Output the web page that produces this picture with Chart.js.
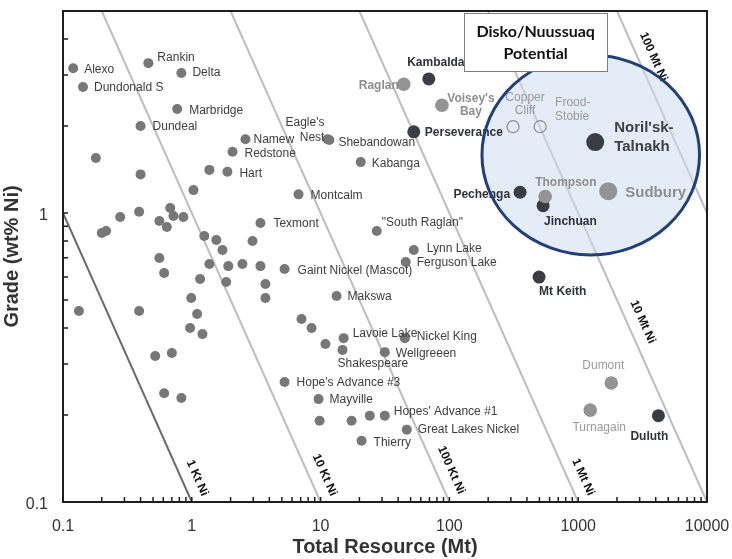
<!DOCTYPE html>
<html>
<head>
<meta charset="utf-8">
<script src="https://cdn.jsdelivr.net/npm/chart.js@4.4.1/dist/chart.umd.min.js"></script>
<style>
  html, body { margin: 0; padding: 0; background: #fff; }
  canvas { display: block; }
</style>
</head>
<body>
<canvas id="myChart" width="732" height="559"></canvas>
<script>
// axis labels
const xTickLabels = [0.1, 1, 10, 100, 1000, 10000];
const yTickLabels = [0.1, 1];

// smaller deposits (grey dots), "" = unlabelled
const depositNames = [
  "Alexo", "Rankin", "Delta", "Dundonald S", "Marbridge", "Dundeal", "Namew", "Redstone", "Hart",
  "Eagle's Nest", "Shebandowan", "Kabanga", "Montcalm", "Texmont", "\"South Raglan\"", "Lynn Lake",
  "Ferguson Lake", "Gaint Nickel (Mascot)", "Makswa", "Lavoie Lake", "Nickel King", "Wellgreeen",
  "Shakespeare", "Hope's Advance #3", "Mayville", "Hopes' Advance #1", "Great Lakes Nickel", "Thierry",
  "", "", "", "", "", "", "", "", "", "", "", "", "", "", "", "", "", "", "", "", "", "", "", "", "",
  "", "", "", "", "", "", "", "", "", "", "", "", "", "", "", "", "", "", "", ""
];
const depositTonnage = [
  0.12, 0.46, 0.83, 0.143, 0.77, 0.40, 2.61, 2.07, 1.89,
  11.3, 11.7, 20.5, 6.74, 3.41, 27.3, 52.9,
  45.8, 5.25, 13.3, 15.1, 45.1, 31.5,
  14.8, 5.25, 9.64, 31.5, 46.7, 20.8,
  0.18, 0.40, 1.37, 1.03, 0.68, 0.39, 0.278, 0.72, 0.86, 0.56, 0.64, 0.216, 0.20, 1.25, 1.55, 2.96, 1.73,
  0.56, 1.37, 1.92, 2.47, 3.41, 0.61, 1.16, 1.85, 3.73, 3.73, 0.99, 0.133, 0.39, 1.10, 0.97, 1.21, 0.52,
  0.70, 0.61, 0.83, 7.11, 8.51, 10.9, 9.82, 17.4, 24.1
];
const depositGrade = [
  3.17, 3.30, 3.05, 2.73, 2.29, 2.00, 1.80, 1.63, 1.39,
  1.80, 1.79, 1.50, 1.16, 0.924, 0.866, 0.745,
  0.677, 0.640, 0.516, 0.369, 0.369, 0.330,
  0.336, 0.260, 0.227, 0.199, 0.178, 0.163,
  1.55, 1.36, 1.41, 1.20, 1.04, 1.01, 0.969, 0.976, 0.969, 0.938, 0.895, 0.866, 0.853, 0.833, 0.807, 0.800, 0.745,
  0.699, 0.666, 0.655, 0.666, 0.655, 0.620, 0.591, 0.577, 0.568, 0.508, 0.508, 0.458, 0.458, 0.447, 0.400, 0.381, 0.320,
  0.328, 0.238, 0.229, 0.430, 0.400, 0.352, 0.191, 0.191, 0.199
];

// world class deposits, dark dots
const darkNames = ["Kambalda", "Perseverance", "Pechenga", "Jinchuan", "Noril'sk-Talnakh", "Mt Keith", "Duluth"];
const darkTonnage = [69.2, 52.9, 354, 534, 1355, 497, 4195];
const darkGrade = [2.91, 1.91, 1.18, 1.06, 1.76, 0.60, 0.199];

// world class deposits, light dots
const lightNames = ["Raglan", "Voisey's Bay", "Thompson", "Sudbury", "Dumont", "Turnagain"];
const lightTonnage = [44.2, 87.5, 554, 1711, 1807, 1240];
const lightGrade = [2.79, 2.36, 1.14, 1.19, 0.258, 0.208];

// open circles
const openNames = ["Copper Cliff", "Frood-Stobie"];
const openTonnage = [312, 506];
const openGrade = [1.99, 1.99];

// contained nickel lines (endpoints, Mt vs wt%)
const contourNames = ["1 Kt Ni", "10 Kt Ni", "100 Kt Ni", "1 Mt Ni", "10 Mt Ni", "100 Mt Ni"];
const contourStartTonnage = [0.1, 0.2, 2, 20, 200, 2000];
const contourStartGrade = [1, 5, 5, 5, 5, 5];
const contourEndTonnage = [1, 10, 100, 1000, 10000, 10000];
const contourEndGrade = [0.1, 0.1, 0.1, 0.1, 0.1, 1];

const FONT = '"Liberation Sans", Arial, sans-serif';

// label placement: [dx, dy, align, style, lines, lineGap]
const labelPlacement = {
  "Alexo": [11, 1, "left", "n"],
  "Rankin": [9, -5, "left", "n"],
  "Delta": [11, 0, "left", "n"],
  "Dundonald S": [11, 1, "left", "n"],
  "Marbridge": [12, 2, "left", "n"],
  "Dundeal": [12, 1, "left", "n"],
  "Namew": [8, 0, "left", "n"],
  "Redstone": [12, 2, "left", "n"],
  "Hart": [12, 2, "left", "n"],
  "Eagle's Nest": [-3, -17, "right", "n", ["Eagle's", "Nest"], 15],
  "Shebandowan": [9, 3, "left", "n"],
  "Kabanga": [11, 2, "left", "n"],
  "Montcalm": [12, 1, "left", "n"],
  "Texmont": [13, 1, "left", "n"],
  "\"South Raglan\"": [5, -8, "left", "n"],
  "Lynn Lake": [13, -1, "left", "n"],
  "Ferguson Lake": [11, 1, "left", "n"],
  "Gaint Nickel (Mascot)": [13, 2, "left", "n"],
  "Makswa": [11, 1, "left", "n"],
  "Lavoie Lake": [9, -4, "left", "n"],
  "Nickel King": [12, -1, "left", "n"],
  "Wellgreeen": [11, 2, "left", "n"],
  "Shakespeare": [-5, 14, "left", "n"],
  "Hope's Advance #3": [12, 1, "left", "n"],
  "Mayville": [11, 1, "left", "n"],
  "Hopes' Advance #1": [9, -4, "left", "n"],
  "Great Lakes Nickel": [11, 0, "left", "n"],
  "Thierry": [12, 2, "left", "n"],
  "Kambalda": [7, -16, "center", "b"],
  "Perseverance": [11, 1, "left", "b"],
  "Pechenga": [-10, 2, "right", "b"],
  "Jinchuan": [1, 16, "left", "b"],
  "Noril'sk-Talnakh": [19, -14, "left", "B", ["Noril'sk-", "Talnakh"], 19],
  "Mt Keith": [0, 15, "left", "b"],
  "Duluth": [-9, 21, "center", "b"],
  "Raglan": [-5, 1, "right", "g"],
  "Voisey's Bay": [29, -7, "center", "g", ["Voisey's", "Bay"], 13],
  "Thompson": [-10, -14, "left", "g"],
  "Sudbury": [17, 2, "left", "G"],
  "Dumont": [-8, -17, "center", "l"],
  "Turnagain": [9, 18, "center", "l"],
  "Copper Cliff": [12, -29, "center", "l", ["Copper", "Cliff"], 13],
  "Frood-Stobie": [15, -24, "left", "l", ["Frood-", "Stobie"], 14]
};

const labelStyles = {
  n: { font: "12px " + FONT, color: "#3d3d3d" },
  b: { font: "bold 12px " + FONT, color: "#2f3237" },
  g: { font: "bold 12px " + FONT, color: "#8e8e8e" },
  l: { font: "12px " + FONT, color: "#9a9a9a" },
  B: { font: "bold 15px " + FONT, color: "#3b3f46" },
  G: { font: "bold 15px " + FONT, color: "#8e8e8e" }
};

const toPoints = (xs, ys) => xs.map((x, i) => ({ x: x, y: ys[i] }));

const darkRadius = darkNames.map((n) => (n === "Noril'sk-Talnakh" ? 9 : 6.5));
const lightRadius = lightNames.map((n) => (n === "Sudbury" ? 9 : 6.8));

const pointSets = [
  { label: "open", names: openNames, data: toPoints(openTonnage, openGrade), pointRadius: 6,
    backgroundColor: "rgba(255,255,255,0)", borderColor: "#8d8d8d", borderWidth: 1.3, order: 0 },
  { label: "light", names: lightNames, data: toPoints(lightTonnage, lightGrade), pointRadius: lightRadius,
    backgroundColor: "#939393", borderWidth: 0, order: 1 },
  { label: "dark", names: darkNames, data: toPoints(darkTonnage, darkGrade), pointRadius: darkRadius,
    backgroundColor: "#3a3e44", borderWidth: 0, order: 2 },
  { label: "deposits", names: depositNames, data: toPoints(depositTonnage, depositGrade), pointRadius: 5,
    backgroundColor: "#777777", borderWidth: 0, order: 3 }
];

const lineSets = contourNames.map((name, i) => ({
  type: "line",
  label: name,
  contour: true,
  data: [
    { x: contourStartTonnage[i], y: contourStartGrade[i] },
    { x: contourEndTonnage[i], y: contourEndGrade[i] }
  ],
  borderColor: i === 0 ? "#6b6b6b" : "#bdbdbd",
  borderWidth: 2,
  pointRadius: 0,
  fill: false,
  order: 10
}));

// grade at which each line's label sits
const contourLabelGrade = [0.121, 0.124, 0.129, 0.122, 0.42, 3.47];

const ellipseBox = { xMin: 179, xMax: 8750, yMin: 0.716, yMax: 3.52 };
const textBox = { xMin: 130, xMax: 1682, yMin: 3.10, yMax: 4.92 };

let fillDone = false;

const overlayPlugin = {
  id: "overlay",
  beforeDatasetsDraw() {
    fillDone = false;
  },
  beforeDatasetDraw(chart, args) {
    if (fillDone || args.meta._dataset.contour) return;
    fillDone = true;
    const { ctx, scales: { x, y } } = chart;
    const l = x.getPixelForValue(ellipseBox.xMin), r = x.getPixelForValue(ellipseBox.xMax);
    const t = y.getPixelForValue(ellipseBox.yMax), b = y.getPixelForValue(ellipseBox.yMin);
    ctx.save();
    ctx.beginPath();
    ctx.ellipse((l + r) / 2, (t + b) / 2, (r - l) / 2, (b - t) / 2, 0, 0, Math.PI * 2);
    ctx.fillStyle = "rgba(205,220,242,0.55)";
    ctx.fill();
    ctx.restore();
  },
  afterDatasetsDraw(chart) {
    const { ctx, chartArea, scales: { x, y } } = chart;

    // point labels
    ctx.save();
    ctx.textBaseline = "middle";
    chart.data.datasets.forEach((ds, di) => {
      if (!ds.names) return;
      const meta = chart.getDatasetMeta(di);
      ds.names.forEach((name, i) => {
        const p = labelPlacement[name];
        if (!name || !p) return;
        const el = meta.data[i];
        const st = labelStyles[p[3]];
        ctx.font = st.font;
        ctx.fillStyle = st.color;
        ctx.textAlign = p[2];
        const lines = p[4] || [name];
        const gap = p[5] || 0;
        lines.forEach((txt, k) => {
          ctx.fillText(txt, el.x + p[0], el.y + p[1] + k * gap);
        });
      });
    });
    ctx.restore();

    // contour labels
    ctx.save();
    ctx.font = "bold 12px " + FONT;
    ctx.fillStyle = "#111";
    ctx.textAlign = "center";
    ctx.textBaseline = "middle";
    contourNames.forEach((name, i) => {
      const x0 = x.getPixelForValue(contourStartTonnage[i]), y0 = y.getPixelForValue(contourStartGrade[i]);
      const x1 = x.getPixelForValue(contourEndTonnage[i]), y1 = y.getPixelForValue(contourEndGrade[i]);
      const ang = Math.atan2(y1 - y0, x1 - x0);
      const py = y.getPixelForValue(contourLabelGrade[i]);
      const px = x0 + (py - y0) * (x1 - x0) / (y1 - y0) + 16;
      ctx.save();
      ctx.translate(px, py);
      ctx.rotate(ang);
      ctx.fillText(name, 0, 0);
      ctx.restore();
    });
    ctx.restore();

    // ellipse outline
    const l = x.getPixelForValue(ellipseBox.xMin), r = x.getPixelForValue(ellipseBox.xMax);
    const t = y.getPixelForValue(ellipseBox.yMax), b = y.getPixelForValue(ellipseBox.yMin);
    ctx.save();
    ctx.beginPath();
    ctx.ellipse((l + r) / 2, (t + b) / 2, (r - l) / 2, (b - t) / 2, 0, 0, Math.PI * 2);
    ctx.strokeStyle = "#213f78";
    ctx.lineWidth = 3;
    ctx.stroke();
    ctx.restore();

    // Disko/Nuussuaq box
    const bl = x.getPixelForValue(textBox.xMin), br = x.getPixelForValue(textBox.xMax);
    const bt = y.getPixelForValue(textBox.yMax), bb = y.getPixelForValue(textBox.yMin);
    ctx.save();
    ctx.fillStyle = "#fff";
    ctx.fillRect(bl, bt, br - bl, bb - bt);
    ctx.strokeStyle = "#7f7f7f";
    ctx.lineWidth = 1;
    ctx.strokeRect(Math.round(bl) + 0.5, Math.round(bt) + 0.5, Math.round(br - bl), Math.round(bb - bt));
    ctx.fillStyle = "#111";
    ctx.font = "bold 16px Lato, " + FONT;
    ctx.textAlign = "center";
    ctx.textBaseline = "middle";
    const cx = (bl + br) / 2;
    ctx.fillText("Disko/Nuussuaq", cx, bt + 19);
    ctx.fillText("Potential", cx, bt + 41);
    ctx.restore();

    // frame and inward ticks
    ctx.save();
    ctx.strokeStyle = "#1e1e1e";
    ctx.lineWidth = 2;
    ctx.strokeRect(chartArea.left, chartArea.top, chartArea.right - chartArea.left, chartArea.bottom - chartArea.top);
    ctx.lineWidth = 1.5;
    ctx.beginPath();
    for (let e = -1; e <= 3; e++) {
      for (let m = 1; m <= 9; m++) {
        const px = x.getPixelForValue(m * Math.pow(10, e));
        ctx.moveTo(px, chartArea.bottom);
        ctx.lineTo(px, chartArea.bottom - 5);
      }
    }
    for (let e = -1; e <= 0; e++) {
      for (let m = 1; m <= 9; m++) {
        const v = m * Math.pow(10, e);
        if (v >= 5) continue;
        const py = y.getPixelForValue(v);
        ctx.moveTo(chartArea.left, py);
        ctx.lineTo(chartArea.left + 5, py);
      }
    }
    ctx.stroke();
    ctx.restore();
  }
};

const config = {
  type: "scatter",
  data: { datasets: pointSets.concat(lineSets) },
  options: {
    responsive: false,
    animation: false,
    layout: { padding: { top: 11, right: 25, left: 0, bottom: 0 } },
    scales: {
      x: {
        type: "logarithmic",
        min: 0.1,
        max: 10000,
        afterBuildTicks: (s) => { s.ticks = xTickLabels.map((v) => ({ value: v })); },
        afterFit: (s) => {
          s.height = 57;
          s.paddingLeft = 0; s.paddingRight = 0; s.paddingTop = 0; s.paddingBottom = 0;
        },
        grid: { display: false, drawTicks: false },
        border: { display: false },
        ticks: {
          padding: 15,
          autoSkip: false,
          maxRotation: 0,
          color: "#333",
          font: { family: FONT, size: 16 },
          callback: (v) => String(v)
        },
        title: {
          display: true,
          text: "Total Resource (Mt)",
          color: "#333",
          font: { family: FONT, size: 20, weight: "bold" },
          padding: 0
        }
      },
      y: {
        type: "logarithmic",
        min: 0.1,
        max: 5,
        afterBuildTicks: (s) => { s.ticks = yTickLabels.map((v) => ({ value: v })); },
        afterFit: (s) => {
          s.width = 63;
          s.paddingLeft = 0; s.paddingRight = 0; s.paddingTop = 0; s.paddingBottom = 0;
        },
        grid: { display: false, drawTicks: false },
        border: { display: false },
        ticks: {
          padding: 15,
          labelOffset: 3,
          color: "#333",
          font: { family: FONT, size: 16 },
          callback: (v) => String(v)
        },
        title: {
          display: true,
          text: "Grade (wt% Ni)",
          color: "#333",
          font: { family: FONT, size: 20, weight: "bold" },
          padding: 0
        }
      }
    },
    plugins: {
      legend: { display: false },
      tooltip: { enabled: false }
    }
  },
  plugins: [overlayPlugin]
};

const myChart = new Chart(document.getElementById("myChart"), config);
</script>
</body>
</html>
